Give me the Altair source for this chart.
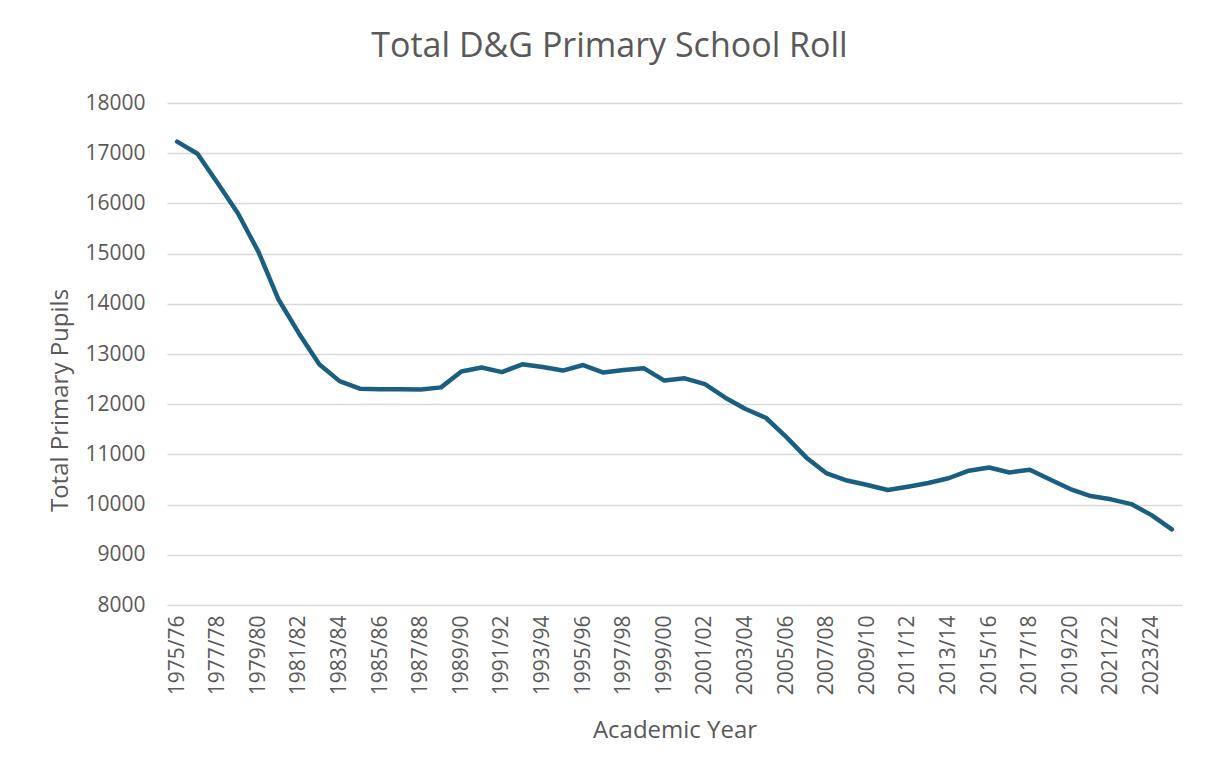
import altair as alt
import pandas as pd

years = [f"{y}/{str(y + 1)[-2:]}" for y in range(1975, 2025)]
pupils = [17230, 16990, 16400, 15800, 15040, 14080, 13410, 12795, 12460, 12310,
          12300, 12300, 12295, 12335, 12650, 12730, 12640, 12795, 12740, 12670,
          12780, 12630, 12680, 12715, 12470, 12515, 12400, 12130, 11905, 11730,
          11350, 10935, 10620, 10480, 10390, 10290, 10357, 10430, 10525, 10675,
          10740, 10640, 10695, 10500, 10310, 10170, 10105, 10010, 9790, 9505]
shown_labels = years[::2]

df = pd.DataFrame({"year": years, "pupils": pupils})

FONT = "Open Sans"
GREY = "#595959"

chart = alt.Chart(df).mark_line(color="#1a5f80", strokeWidth=4.5, strokeCap="round", strokeJoin="round").encode(
    x=alt.X("year:N", sort=years,
            scale=alt.Scale(paddingOuter=0.5),
            axis=alt.Axis(title="Academic Year", values=shown_labels, labelAngle=-90,
                          labelAlign="right", labelBaseline="middle",
                          labelFontSize=21, labelColor=GREY, labelFont=FONT,
                          labelPadding=10, ticks=False, domain=False, grid=False,
                          titleFontSize=24, titleFont=FONT, titleColor=GREY,
                          titleFontWeight="normal", titlePadding=24)),
    y=alt.Y("pupils:Q", scale=alt.Scale(domain=[8000, 18000], nice=False, zero=False),
            axis=alt.Axis(title="Total Primary Pupils", values=list(range(8000, 18001, 1000)),
                          format="d", labelFontSize=21, labelColor=GREY, labelFont=FONT,
                          labelPadding=22, ticks=False, domain=False,
                          gridColor="#d9d9d9", gridWidth=1.5,
                          titleFontSize=24, titleFont=FONT, titleColor=GREY,
                          titleFontWeight="normal", titlePadding=12, titleY=297)),
).properties(
    width=1015, height=502,
    title=alt.TitleParams("Total D&G Primary School Roll", fontSize=34, font=FONT,
                          color=GREY, fontWeight="normal", anchor="middle", offset=28, dx=-65),
    autosize=alt.AutoSizeParams(type="none"),
    padding={"left": 159, "top": 95, "right": 15, "bottom": 150},
).configure_view(stroke=None)

chart.save("out.html", embed_options={"renderer": "svg", "actions": False})
